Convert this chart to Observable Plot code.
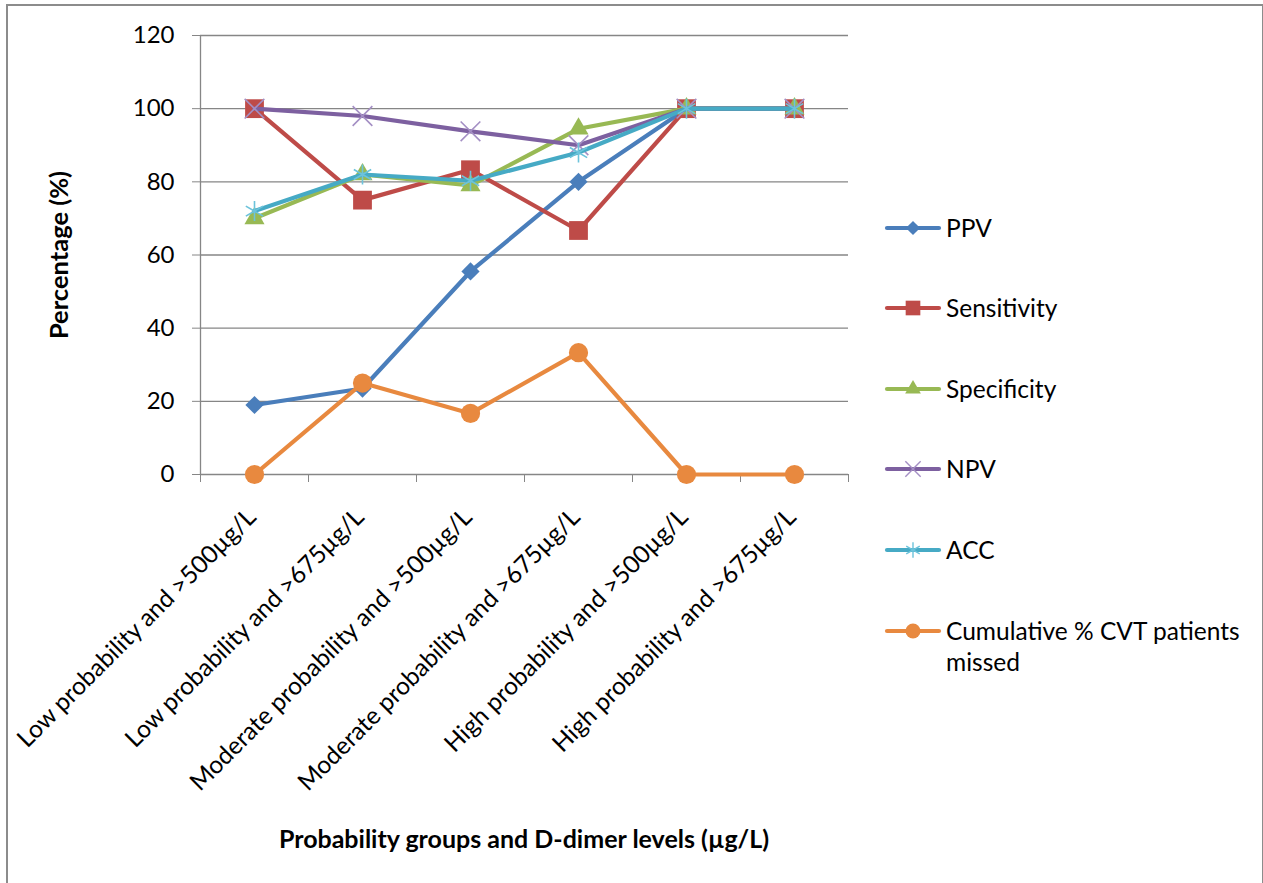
<!DOCTYPE html>
<html>
<head>
<meta charset="utf-8">
<script src="https://cdn.jsdelivr.net/npm/d3@7"></script>
<script src="https://cdn.jsdelivr.net/npm/@observablehq/plot@0.6"></script>
<style>
  html, body { margin: 0; padding: 0; background: #fff; overflow: hidden; }
  #wrap { position: relative; width: 1263px; height: 883px; font-family: Lato, "Open Sans", sans-serif; color: #000; }
  #frame { position: absolute; left: 6px; top: 4px; width: 1254px; height: 900px; border: 2px solid #8c8c8c; border-bottom: none; }
  #chart { position: absolute; left: 0; top: 0; }
  .ytitle { position: absolute; left: 58px; top: 255px; transform: translate(-50%, -50%) rotate(-90deg); white-space: nowrap; font-weight: 700; font-size: 25.5px; }
  .xtitle { position: absolute; left: 524px; top: 838px; transform: translate(-50%, -50%); white-space: nowrap; font-weight: 700; font-size: 25px; }
  #legend { position: absolute; left: 884px; top: 0; }
  .item { position: absolute; left: 0; display: flex; align-items: flex-start; white-space: nowrap; font-size: 24.5px; }
  .item svg { flex: none; }
  .item span { margin-left: 4px; line-height: 31px; }
</style>
</head>
<body>
<div id="wrap">
  <div id="frame"></div>
  <div id="chart"></div>
  <div class="ytitle">Percentage (%)</div>
  <div class="xtitle">Probability groups and D-dimer levels (µg/L)</div>
  <div id="legend"></div>
</div>
<script>
// Probability group / D-dimer threshold combinations
const categories = [
  "Low probability and >500µg/L",
  "Low probability and >675µg/L",
  "Moderate probability and >500µg/L",
  "Moderate probability and >675µg/L",
  "High probability and >500µg/L",
  "High probability and >675µg/L"
];

// Diagnostic performance (%) for each combination
const ppv         = [19, 23.5, 55.5, 80, 100, 100];
const sensitivity = [100, 75, 83.3, 66.7, 100, 100];
const specificity = [70, 82, 79, 94.5, 100, 100];
const npv         = [100, 98, 93.8, 90, 100, 100];
const acc         = [72, 82, 80.3, 88, 100, 100];
const missed      = [0, 25, 16.7, 33.3, 0, 0];

const yTicks = [0, 20, 40, 60, 80, 100, 120];

const seriesNames   = ["PPV", "Sensitivity", "Specificity", "NPV", "ACC", "Cumulative % CVT patients missed"];
const seriesValues  = [ppv, sensitivity, specificity, npv, acc, missed];
const seriesColors  = ["#4a7ebb", "#be4b48", "#98b954", "#7d60a0", "#46aac5", "#e8893f"];
const markerColors  = ["#4a7ebb", "#be4b48", "#98b954", "#a48fc4", "#6cc3db", "#e8893f"];
const seriesSymbols = ["diamond2", "square", "triangle2", "times", "asterisk", "circle"];
const markerRadius  = [8.2, 10.6, 9.6, 9, 9.5, 9.6];
const strokedMarker = [false, false, false, true, true, false];

const grid = "#868686";
const W = 1263, H = 883;

const rows = seriesNames.map((name, s) =>
  seriesValues[s].map((v, i) => ({series: name, i, category: categories[i], value: v}))
);

const marks = [
  Plot.gridY(yTicks.filter(t => t > 0), {stroke: grid, strokeOpacity: 1, strokeWidth: 1.3}),
  Plot.ruleY([0], {stroke: grid, strokeWidth: 1.3}),
  Plot.ruleX([0], {stroke: grid, strokeWidth: 1.3}),
  Plot.axisY({ticks: yTicks, tickSize: 8, tickPadding: 18, stroke: grid, fill: "#000", fontSize: 24, label: null}),
  Plot.axisX({ticks: d3.range(categories.length + 1), tickSize: 8, tickFormat: () => "", stroke: grid, label: null}),
  Plot.text(categories, {
    x: (d, i) => i + 0.5,
    frameAnchor: "bottom",
    text: d => d,
    rotate: -45,
    textAnchor: "end",
    dx: 3,
    dy: 44,
    fontSize: 24.5,
    fill: "#000"
  })
];

rows.forEach((data, s) => {
  marks.push(Plot.lineY(data, {
    x: d => d.i + 0.5, y: "value",
    stroke: seriesColors[s], strokeWidth: 4.2, strokeLinejoin: "round", strokeLinecap: "round"
  }));
  marks.push(Plot.dot(data, strokedMarker[s]
    ? {x: d => d.i + 0.5, y: "value", symbol: () => seriesSymbols[s], r: markerRadius[s], stroke: markerColors[s], strokeWidth: 1.6, fill: "none"}
    : {x: d => d.i + 0.5, y: "value", symbol: () => seriesSymbols[s], r: markerRadius[s], fill: markerColors[s], stroke: "none"}
  ));
});

const chart = Plot.plot({
  width: W,
  height: H,
  marginLeft: 200,
  marginRight: 415,
  marginTop: 35,
  marginBottom: 409,
  style: {fontFamily: "Lato, 'Open Sans', sans-serif", background: "transparent", overflow: "visible"},
  x: {type: "linear", domain: [0, categories.length], axis: null},
  y: {domain: [0, 120], axis: null},
  symbol: {type: "identity"},
  marks
});
document.getElementById("chart").appendChild(chart);

// Legend: one row per series, line swatch with its marker
const legend = document.getElementById("legend");
const rowTop = [212, 292, 373, 453, 534, 615];
const symbolMap = {diamond2: d3.symbolDiamond2, square: d3.symbolSquare, triangle2: d3.symbolTriangle2, times: d3.symbolTimes, asterisk: d3.symbolAsterisk, circle: d3.symbolCircle};
seriesNames.forEach((name, s) => {
  const item = document.createElement("div");
  item.className = "item";
  item.style.top = rowTop[s] + "px";
  const sw = d3.create("svg").attr("width", 58).attr("height", 31);
  sw.append("line").attr("x1", 3).attr("x2", 55).attr("y1", 16).attr("y2", 16)
    .attr("stroke", seriesColors[s]).attr("stroke-width", 4.2).attr("stroke-linecap", "round");
  const r = markerRadius[s] * 0.78;
  sw.append("path")
    .attr("transform", "translate(29,16)")
    .attr("d", d3.symbol(symbolMap[seriesSymbols[s]], Math.PI * r * r)())
    .attr("fill", strokedMarker[s] ? "none" : markerColors[s])
    .attr("stroke", strokedMarker[s] ? markerColors[s] : "none")
    .attr("stroke-width", 1.4);
  item.appendChild(sw.node());
  const label = document.createElement("span");
  label.innerHTML = name === "Cumulative % CVT patients missed" ? "Cumulative % CVT patients<br>missed" : name;
  item.appendChild(label);
  legend.appendChild(item);
});
</script>
</body>
</html>
